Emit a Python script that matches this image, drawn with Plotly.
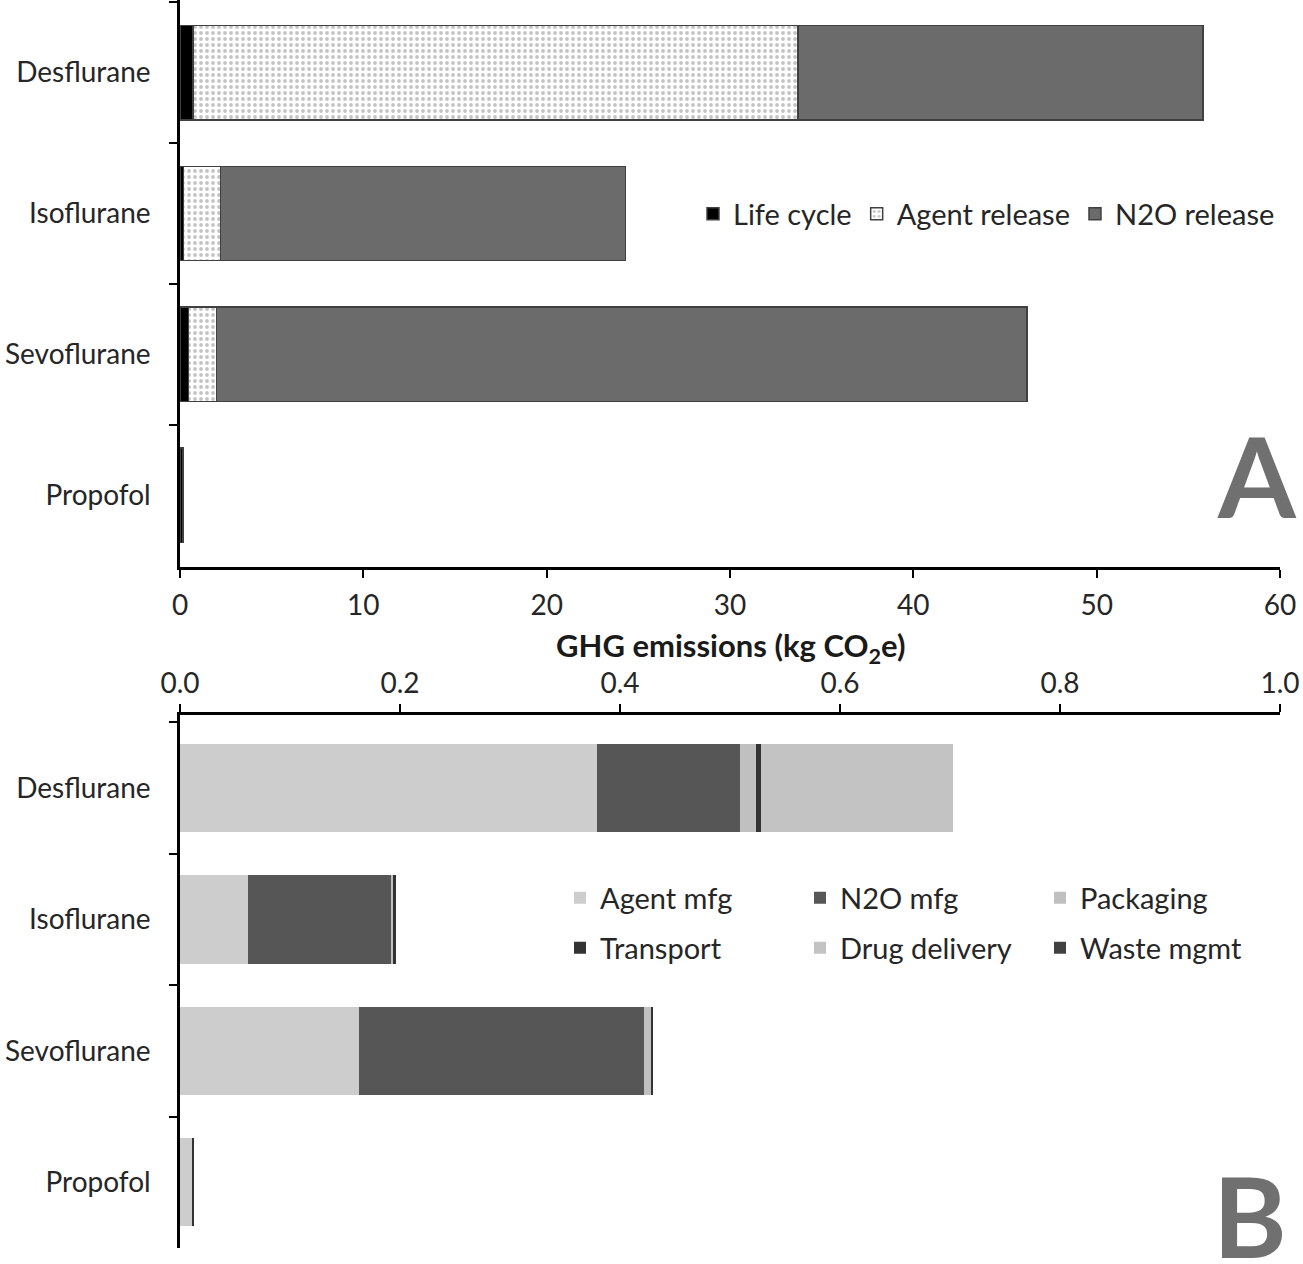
import plotly.graph_objects as go

categories = ["Desflurane", "Isoflurane", "Sevoflurane", "Propofol"]

# Panel A (kg CO2e)
life_cycle = [0.7, 0.2, 0.45, 0.15]
agent_release = [33.0, 2.0, 1.55, 0.0]
n2o_release = [22.1, 22.1, 44.2, 0.0]

# Panel B (kg CO2e)
agent_mfg = [0.379, 0.0615, 0.163, 0.0115]
n2o_mfg = [0.1305, 0.13, 0.259, 0.0]
packaging = [0.0145, 0.002, 0.0067, 0.0]
transport = [0.0045, 0.0025, 0.0015, 0.0015]
drug_delivery = [0.1745, 0.0, 0.0, 0.0]
waste_mgmt = [0.0, 0.0, 0.0, 0.0]

ticks_a = [0, 10, 20, 30, 40, 50, 60]
ticks_b = [0.0, 0.2, 0.4, 0.6, 0.8, 1.0]

FONT = "Lato"
TXT = "#262626"

# page geometry (body margin removed below)
PL, PR, PT, PB = 180, 1280, 0, 1248
def px(x):
    return (x - PL) / (PR - PL)
def py(y):
    return (PB - y) / (PB - PT)

fig = go.Figure()
border = dict(color="#404040", width=1.5)
fig.add_bar(y=categories, x=life_cycle, name="Life cycle", orientation="h",
            marker=dict(color="#000000", line=border), xaxis="x", yaxis="y", legend="legend")
fig.add_bar(y=categories, x=agent_release, name="Agent release", orientation="h",
            marker=dict(color="#ffffff", line=border,
                        pattern=dict(shape=".", fgcolor="#8a8a8a", bgcolor="#ffffff", size=6, solidity=0.33)),
            xaxis="x", yaxis="y", legend="legend")
fig.add_bar(y=categories, x=n2o_release, name="N2O release", orientation="h",
            marker=dict(color="#6b6b6b", line=border), xaxis="x", yaxis="y", legend="legend")

b_series = [
    ("Agent mfg", agent_mfg, "#cdcdcd", "legend2"),
    ("N2O mfg", n2o_mfg, "#565656", "legend2"),
    ("Packaging", packaging, "#c0c0c0", "legend2"),
    ("Transport", transport, "#333333", "legend3"),
    ("Drug delivery", drug_delivery, "#c3c3c3", "legend3"),
    ("Waste mgmt", waste_mgmt, "#404040", "legend3"),
]
for name, vals, col, lg in b_series:
    fig.add_bar(y=categories, x=vals, name=name, orientation="h",
                marker=dict(color=col, line=dict(width=0)), xaxis="x2", yaxis="y2", legend=lg)

tickfont = dict(family=FONT, size=28, color=TXT)
legfont = dict(family=FONT, size=29, color=TXT)
fig.update_layout(
    width=1303, height=1264,
    margin=dict(l=180, r=23, t=0, b=16),
    paper_bgcolor="white", plot_bgcolor="white",
    barmode="stack", bargap=0.33,
    font=dict(family=FONT, size=28, color=TXT),
    xaxis=dict(domain=[0, 1], anchor="y", range=[0, 60], tickvals=ticks_a,
               ticks="outside", ticklen=8, tickwidth=2, tickcolor="black",
               showline=True, linecolor="black", linewidth=2.5, showgrid=False, zeroline=False,
               tickfont=tickfont, ticklabelstandoff=4, ticklabeloverflow="allow"),
    yaxis=dict(domain=[py(567), 1], anchor="x", type="category",
               categoryorder="array", categoryarray=categories, range=[3.51, -0.516],
               tickson="boundaries", ticks="outside", ticklen=8, tickwidth=2, tickcolor="black",
               showline=True, linecolor="black", linewidth=2.5, showgrid=False,
               tickfont=tickfont, ticklabelstandoff=21),
    xaxis2=dict(domain=[0, 1], anchor="y2", side="top", range=[0, 1.0], tickvals=ticks_b,
                ticktext=[f"{v:.1f}" for v in ticks_b],
                ticks="outside", ticklen=8, tickwidth=2, tickcolor="black",
                showline=True, linecolor="black", linewidth=2.5, showgrid=False, zeroline=False,
                tickfont=tickfont, ticklabelstandoff=0, ticklabeloverflow="allow"),
    yaxis2=dict(domain=[0, py(715)], anchor="x2", type="category",
                categoryorder="array", categoryarray=categories, range=[3.5, -0.556],
                tickson="boundaries", ticks="outside", ticklen=8, tickwidth=2, tickcolor="black",
                showline=True, linecolor="black", linewidth=2.5, showgrid=False,
                tickfont=tickfont, ticklabelstandoff=21),
    legend=dict(orientation="h", x=1.0, y=py(214),
                xanchor="right", yanchor="middle", bgcolor="rgba(0,0,0,0)",
                font=legfont, traceorder="normal"),
    legend2=dict(orientation="h", x=1.0, y=py(898),
                 xanchor="right", yanchor="middle", bgcolor="rgba(0,0,0,0)",
                 font=legfont, entrywidth=195, traceorder="normal"),
    legend3=dict(orientation="h", x=1.0, y=py(948),
                 xanchor="right", yanchor="middle", bgcolor="rgba(0,0,0,0)",
                 font=legfont, entrywidth=195, traceorder="normal"),
    annotations=[
        dict(text="<b>GHG emissions (kg CO<sub>2</sub>e)</b>", xref="paper", yref="paper",
             x=px(730), y=py(647), showarrow=False,
             font=dict(family=FONT, size=31, color="#1a1a1a"), xanchor="center", yanchor="middle"),
        dict(text="<b>A</b>", xref="paper", yref="paper",
             x=px(1257), y=py(474), showarrow=False,
             font=dict(family=FONT, size=112, color="#707070"), xanchor="center", yanchor="middle"),
        dict(text="<b>B</b>", xref="paper", yref="paper",
             x=px(1250), y=py(1214), showarrow=False,
             font=dict(family=FONT, size=112, color="#707070"), xanchor="center", yanchor="middle"),
    ],
)

fig.write_html("out.html", config={"displayModeBar": False},
               post_script="document.body.style.margin='0';document.body.style.overflow='hidden';")
